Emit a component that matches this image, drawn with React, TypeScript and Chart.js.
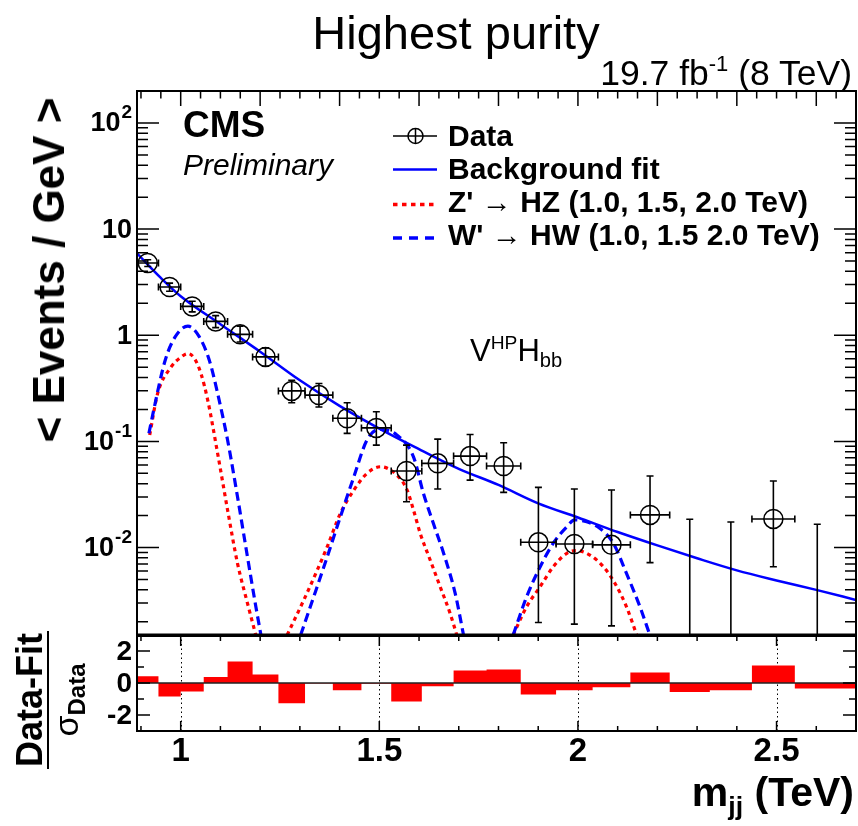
import React, { useEffect, useRef } from 'react';
import { Chart, registerables } from 'chart.js';

Chart.register(...registerables);

const FONT = '"Liberation Sans", Arial, Helvetica, sans-serif';

// ---- data (mass in TeV, < Events / GeV >) ----
const binEdges = [0.890, 0.944, 1.000, 1.058, 1.118, 1.181, 1.246, 1.313, 1.383, 1.455, 1.530, 1.607, 1.687, 1.770, 1.856, 1.945, 2.037, 2.132, 2.231, 2.332, 2.438, 2.546, 2.659];
const dataValues = [4.79, 2.85, 1.87, 1.35, 1.02, 0.625, 0.299, 0.273, 0.165, 0.134, 0.0526, 0.0621, 0.0727, 0.0586, 0.0112, 0.0108, 0.0106, 0.0203, 0, 0, 0.0186, 0];
const dataHigh = [5.15, 3.10, 2.09, 1.53, 1.22, 0.760, 0.377, 0.351, 0.231, 0.190, 0.0923, 0.105, 0.116, 0.097, 0.0369, 0.0356, 0.0348, 0.0472, 0.0185, 0.0174, 0.0423, 0.0166];
const dataLow = [4.45, 2.60, 1.66, 1.18, 0.865, 0.511, 0.231, 0.211, 0.119, 0.0923, 0.0270, 0.0356, 0.0432, 0.0331, 0.00197, 0.0019, 0.00183, 0.00721, 0, 0, 0.0066, 0];

const fitMass = [0.89, 0.95, 1.0, 1.1, 1.2, 1.3, 1.4, 1.5, 1.6, 1.7, 1.8, 1.9, 2.0, 2.1, 2.2, 2.3, 2.4, 2.5, 2.6, 2.7];
const fitValues = [5.92, 3.47, 2.33, 1.27, 0.70, 0.376, 0.216, 0.132, 0.0845, 0.0551, 0.0389, 0.0261, 0.0192, 0.0140, 0.01047, 0.00793, 0.0061, 0.0049, 0.00399, 0.00321];

const zp1Mass = [0.922, 0.942, 0.976, 1.0, 1.018, 1.035, 1.051, 1.068, 1.093, 1.118, 1.143, 1.168, 1.189];
const zp1Values = [0.115, 0.283, 0.503, 0.62, 0.673, 0.60, 0.436, 0.245, 0.077, 0.0226, 0.0071, 0.0030, 0.0015];
const zp2Mass = [1.268, 1.31, 1.344, 1.369, 1.402, 1.436, 1.469, 1.503, 1.544, 1.570, 1.586, 1.603, 1.628, 1.653, 1.678, 1.695];
const zp2Values = [0.0015, 0.00321, 0.00615, 0.0102, 0.021, 0.0348, 0.050, 0.0577, 0.0482, 0.0348, 0.0226, 0.0136, 0.00764, 0.00429, 0.00241, 0.0015];
const zp3Mass = [1.837, 1.871, 1.905, 1.938, 1.972, 1.997, 2.03, 2.064, 2.093, 2.122, 2.148];
const zp3Values = [0.0015, 0.00278, 0.00429, 0.0066, 0.00883, 0.00935, 0.0085, 0.0066, 0.00461, 0.00278, 0.0015];

const wp1Mass = [0.920, 0.932, 0.961, 0.986, 1.018, 1.047, 1.072, 1.093, 1.118, 1.143, 1.168, 1.189, 1.202];
const wp1Values = [0.119, 0.197, 0.582, 0.964, 1.22, 0.964, 0.582, 0.283, 0.103, 0.0301, 0.0082, 0.0028, 0.0015];
const wp2Mass = [1.302, 1.335, 1.369, 1.402, 1.436, 1.469, 1.50, 1.544, 1.586, 1.611, 1.636, 1.662, 1.691, 1.712];
const wp2Values = [0.0015, 0.00345, 0.0082, 0.0195, 0.0465, 0.103, 0.13, 0.115, 0.0716, 0.0324, 0.0169, 0.0088, 0.0037, 0.0015];
const wp3Mass = [1.837, 1.871, 1.905, 1.938, 1.972, 1.992, 2.022, 2.055, 2.089, 2.122, 2.156, 2.181];
const wp3Values = [0.0015, 0.00345, 0.0066, 0.011, 0.0157, 0.0182, 0.0175, 0.0152, 0.011, 0.00573, 0.00278, 0.0015];

const residualEdges = [0.890, 0.944, 1.000, 1.058, 1.118, 1.181, 1.246, 1.313, 1.383, 1.455, 1.530, 1.607, 1.687, 1.770, 1.856, 1.945, 2.037, 2.132, 2.231, 2.332, 2.438, 2.546, 2.659, 2.775];
const residualValues = [0.42, -0.84, -0.53, 0.38, 1.35, 0.53, -1.27, -0.03, -0.46, -0.05, -1.16, -0.21, 0.78, 0.84, -0.72, -0.46, -0.27, 0.65, -0.57, -0.46, 1.10, -0.34, -0.34];

// ---- ticks / labels ----
const yTickValues = [0.01, 0.1, 1, 10, 100];
const yTickBase = ['10', '10', '1', '10', '10'];
const yTickExp = ['-2', '-1', '', '', '2'];
const resTickValues = [-2, 0, 2];
const resTickLabels = ['-2', '0', '2'];
const xTickValues = [1, 1.5, 2, 2.5];
const xTickLabels = ['1', '1.5', '2', '2.5'];
const legendLabels = ['Data', 'Background fit', "Z' \u2192 HZ (1.0, 1.5, 2.0 TeV)", "W' \u2192 HW (1.0, 1.5 2.0 TeV)"];

const RED = '#ff0000';
const BLUE = '#0000ff';

const pts = (xs: number[], ys: number[]) => xs.map((x, i) => ({ x, y: ys[i] }));

const rootPlugin = {
  id: 'rootStyle',
  beforeDatasetsDraw(chart: any) {
    const { ctx } = chart;
    const xs = chart.scales.x, rs = chart.scales.yRes;
    ctx.save();
    ctx.strokeStyle = '#000';
    ctx.lineWidth = 1;
    ctx.setLineDash([1.5, 3]);
    for (const v of xTickValues) {
      const px = Math.round(xs.getPixelForValue(v)) + 0.5;
      ctx.beginPath(); ctx.moveTo(px, rs.top); ctx.lineTo(px, rs.bottom); ctx.stroke();
    }
    ctx.restore();
  },
  afterDatasetsDraw(chart: any) {
    const { ctx } = chart;
    const xs = chart.scales.x, ys = chart.scales.y, rs = chart.scales.yRes;
    const L = xs.left, R = xs.right;
    const mainBottom = ys.bottom - 0.5;
    const resTop = rs.top + 1;

    // error bars
    ctx.save();
    ctx.beginPath(); ctx.rect(L, ys.top, R - L, mainBottom - ys.top); ctx.clip();
    ctx.strokeStyle = '#000'; ctx.lineWidth = 1.6;
    const cap = 3.5;
    for (let i = 0; i < dataValues.length; i++) {
      const xl = xs.getPixelForValue(binEdges[i]);
      const xr = xs.getPixelForValue(binEdges[i + 1]);
      const xc = xs.getPixelForValue((binEdges[i] + binEdges[i + 1]) / 2);
      const yh = ys.getPixelForValue(dataHigh[i]);
      const yl = dataLow[i] > 0 ? ys.getPixelForValue(dataLow[i]) : ys.bottom + 10;
      ctx.beginPath();
      ctx.moveTo(xc, yh); ctx.lineTo(xc, yl);
      ctx.moveTo(xc - cap, yh); ctx.lineTo(xc + cap, yh);
      if (dataLow[i] > 0) { ctx.moveTo(xc - cap, yl); ctx.lineTo(xc + cap, yl); }
      if (dataValues[i] > 0) {
        const yc = ys.getPixelForValue(dataValues[i]);
        ctx.moveTo(xl, yc); ctx.lineTo(xr, yc);
        ctx.moveTo(xl, yc - cap); ctx.lineTo(xl, yc + cap);
        ctx.moveTo(xr, yc - cap); ctx.lineTo(xr, yc + cap);
      }
      ctx.stroke();
    }
    ctx.restore();

    ctx.save();
    // residual zero line
    const y0 = rs.getPixelForValue(0);
    ctx.strokeStyle = '#222'; ctx.lineWidth = 1.6;
    ctx.beginPath(); ctx.moveTo(L, y0); ctx.lineTo(R, y0); ctx.stroke();

    // frames
    ctx.strokeStyle = '#000'; ctx.lineWidth = 2;
    ctx.strokeRect(L, ys.top, R - L, mainBottom - ys.top);
    ctx.strokeRect(L, resTop, R - L, rs.bottom - resTop);

    // main panel ticks
    ctx.lineWidth = 1.5;
    ctx.beginPath();
    for (let d = -3; d <= 2; d++) {
      for (let m = 1; m <= 9; m++) {
        const v = m * Math.pow(10, d);
        if (v <= ys.min || v >= ys.max) continue;
        const py = ys.getPixelForValue(v);
        const len = m === 1 ? 22 : 11;
        ctx.moveTo(L, py); ctx.lineTo(L + len, py);
        ctx.moveTo(R, py); ctx.lineTo(R - len, py);
      }
    }
    for (let k = 18; k <= 54; k++) {
      const v = k * 0.05;
      if (v <= xs.min || v >= xs.max) continue;
      const px = xs.getPixelForValue(v);
      const len = k % 4 === 0 ? 15 : 7.5;
      ctx.moveTo(px, ys.top); ctx.lineTo(px, ys.top + len);
    }
    // residual ticks
    for (let k = 9; k <= 27; k++) {
      const v = k * 0.1;
      if (v <= xs.min || v >= xs.max) continue;
      const px = xs.getPixelForValue(v);
      const len = k % 5 === 0 ? 10 : 5;
      ctx.moveTo(px, resTop); ctx.lineTo(px, resTop + len);
      ctx.moveTo(px, rs.bottom); ctx.lineTo(px, rs.bottom - len);
    }
    for (let v = -2; v <= 2; v++) {
      const py = rs.getPixelForValue(v);
      const len = v % 2 === 0 ? 13 : 7;
      ctx.moveTo(L, py); ctx.lineTo(L + len, py);
      ctx.moveTo(R, py); ctx.lineTo(R - len, py);
    }
    ctx.stroke();

    // tick labels
    ctx.fillStyle = '#000';
    ctx.textBaseline = 'middle';
    ctx.textAlign = 'right';
    const xr = L - 5;
    yTickValues.forEach((v, i) => {
      const py = ys.getPixelForValue(v);
      if (yTickExp[i]) {
        ctx.font = `bold 19px ${FONT}`;
        const ew = ctx.measureText(yTickExp[i]).width;
        ctx.fillText(yTickExp[i], xr, py - 10);
        ctx.font = `bold 27px ${FONT}`;
        ctx.fillText(yTickBase[i], xr - ew - 1, py + 1);
      } else {
        ctx.font = `bold 27px ${FONT}`;
        ctx.fillText(yTickBase[i], xr, py + 1);
      }
    });
    ctx.font = `bold 28px ${FONT}`;
    resTickValues.forEach((v, i) => {
      ctx.fillText(resTickLabels[i], xr, rs.getPixelForValue(v) + 1);
    });
    ctx.textAlign = 'center';
    ctx.font = `bold 33px ${FONT}`;
    xTickValues.forEach((v, i) => {
      ctx.fillText(xTickLabels[i], xs.getPixelForValue(v), rs.bottom + 21);
    });

    // legend symbols
    const lx0 = 393, lx1 = 437, lxc = 415.5;
    const rowsY = [136, 169.5, 204.5, 238];
    ctx.strokeStyle = '#000'; ctx.lineWidth = 1.5;
    ctx.beginPath();
    ctx.moveTo(lx0, rowsY[0]); ctx.lineTo(lx1, rowsY[0]);
    ctx.moveTo(lxc, rowsY[0] - 7.5); ctx.lineTo(lxc, rowsY[0] + 7.5);
    ctx.stroke();
    ctx.beginPath(); ctx.arc(lxc, rowsY[0], 7.5, 0, Math.PI * 2); ctx.stroke();
    ctx.strokeStyle = BLUE; ctx.lineWidth = 2.5;
    ctx.beginPath(); ctx.moveTo(lx0, rowsY[1]); ctx.lineTo(lx1, rowsY[1]); ctx.stroke();
    ctx.strokeStyle = RED; ctx.lineWidth = 3.5; ctx.setLineDash([4.5, 4.5]);
    ctx.beginPath(); ctx.moveTo(lx0, rowsY[2]); ctx.lineTo(lx1, rowsY[2]); ctx.stroke();
    ctx.strokeStyle = BLUE; ctx.setLineDash([9, 7]);
    ctx.beginPath(); ctx.moveTo(lx0, rowsY[3]); ctx.lineTo(lx1, rowsY[3]); ctx.stroke();
    ctx.restore();
  },
};

function T(props: { x: number; y: number; size: number; bold?: boolean; italic?: boolean; align?: 'left' | 'right' | 'center'; children: React.ReactNode }) {
  const { x, y, size, bold, italic, align = 'left', children } = props;
  const style: React.CSSProperties = {
    position: 'absolute',
    top: y - 0.8465 * size,
    fontSize: size,
    lineHeight: `${size}px`,
    fontWeight: bold ? 700 : 400,
    fontStyle: italic ? 'italic' : 'normal',
    whiteSpace: 'nowrap',
    color: '#000',
  };
  if (align === 'left') style.left = x;
  else if (align === 'right') style.right = 858 - x;
  else { style.left = x; style.transform = 'translateX(-50%)'; }
  return <div style={style}>{children}</div>;
}

const sup = (s: string) => <span style={{ fontSize: '0.62em', position: 'relative', top: '-0.62em' }}>{s}</span>;
const sub = (s: string) => <span style={{ fontSize: '0.65em', position: 'relative', top: '0.32em' }}>{s}</span>;

export default function App() {
  const ref = useRef<HTMLCanvasElement>(null);

  useEffect(() => {
    const lineDs = (label: string, xs: number[], ys: number[], color: string, dash: number[], width: number) => ({
      label,
      data: pts(xs, ys),
      yAxisID: 'y',
      borderColor: color,
      borderWidth: width,
      borderDash: dash,
      pointRadius: 0,
      fill: false,
      cubicInterpolationMode: 'monotone',
    });
    const centers = dataValues.map((_, i) => (binEdges[i] + binEdges[i + 1]) / 2);
    const resData = residualValues.map((v, i) => ({ x: residualEdges[i], y: v }));
    resData.push({ x: residualEdges[residualEdges.length - 1], y: residualValues[residualValues.length - 1] });

    const chart = new Chart(ref.current as HTMLCanvasElement, {
      type: 'line',
      data: {
        datasets: [
          {
            label: 'Data',
            data: centers.map((x, i) => ({ x, y: dataValues[i] > 0 ? dataValues[i] : null })),
            yAxisID: 'y',
            showLine: false,
            pointStyle: 'circle',
            pointRadius: 9.5,
            pointBorderWidth: 1.5,
            pointBorderColor: '#000',
            pointBackgroundColor: 'rgba(0,0,0,0)',
            borderColor: '#000',
            backgroundColor: 'rgba(0,0,0,0)',
            clip: 12,
          } as any,
          lineDs('Background fit', fitMass, fitValues, BLUE, [], 2.5),
          lineDs("W' 1.0", wp1Mass, wp1Values, BLUE, [9, 5], 3.2),
          lineDs("W' 1.5", wp2Mass, wp2Values, BLUE, [9, 5], 3.2),
          lineDs("W' 2.0", wp3Mass, wp3Values, BLUE, [9, 5], 3.2),
          lineDs("Z' 1.0", zp1Mass, zp1Values, RED, [4, 4], 3.2),
          lineDs("Z' 1.5", zp2Mass, zp2Values, RED, [4, 4], 3.2),
          lineDs("Z' 2.0", zp3Mass, zp3Values, RED, [4, 4], 3.2),
          {
            label: 'Residual',
            data: resData,
            yAxisID: 'yRes',
            stepped: 'before',
            fill: 'origin',
            backgroundColor: RED,
            borderColor: 'rgba(0,0,0,0)',
            borderWidth: 0,
            pointRadius: 0,
          } as any,
        ],
      },
      options: {
        responsive: false,
        animation: false,
        devicePixelRatio: 1,
        layout: { autoPadding: false, padding: { left: 137, right: 2, top: 91, bottom: 95 } },
        plugins: { legend: { display: false }, tooltip: { enabled: false }, title: { display: false } },
        scales: {
          x: { type: 'linear', min: 0.89, max: 2.7, display: false },
          y: { type: 'logarithmic', min: 0.0015, max: 200, display: false, position: 'left', stack: 'panels', stackWeight: 544, weight: 2 },
          yRes: { type: 'linear', min: -3, max: 3, display: false, position: 'left', stack: 'panels', stackWeight: 96, weight: 1 },
        },
      } as any,
      plugins: [rootPlugin],
    } as any);
    return () => chart.destroy();
  }, []);

  return (
    <div style={{ position: 'fixed', left: 0, top: 0, width: 858, height: 826, background: '#fff', fontFamily: FONT, overflow: 'hidden' }}>
      <canvas ref={ref} width={858} height={826} style={{ position: 'absolute', left: 0, top: 0, width: 858, height: 826 }} />
      <T x={456} y={49} size={47} align="center">Highest purity</T>
      <T x={852} y={86} size={35.5} align="right">19.7 fb{sup('-1')} (8 TeV)</T>
      <T x={183} y={137} size={37} bold>CMS</T>
      <T x={183} y={175} size={30} italic>Preliminary</T>
      <T x={448} y={146} size={30} bold>{legendLabels[0]}</T>
      <T x={448} y={179} size={30} bold>{legendLabels[1]}</T>
      <T x={448} y={212} size={30} bold>{legendLabels[2]}</T>
      <T x={448} y={245} size={30} bold>{legendLabels[3]}</T>
      <T x={470} y={361} size={31}>V{sup('HP')}H{sub('bb')}</T>
      <T x={854} y={807} size={41} bold align="right">m{sub('jj')} (TeV)</T>
      <div style={{ position: 'absolute', left: 49, top: 270, transform: 'translate(-50%,-50%) rotate(-90deg)', fontSize: 44, fontWeight: 700, lineHeight: '44px', whiteSpace: 'nowrap' }}>
        &lt; Events / GeV &gt;
      </div>
      <div style={{ position: 'absolute', left: 50, top: 700, transform: 'translate(-50%,-50%) rotate(-90deg)', whiteSpace: 'nowrap', textAlign: 'center' }}>
        <div style={{ fontSize: 36, fontWeight: 700, lineHeight: '34px', borderBottom: '2px solid #000', padding: '0 2px' }}>Data-Fit</div>
        <div style={{ fontSize: 34, lineHeight: '34px' }}>
          σ<span style={{ fontSize: 24, fontWeight: 700, position: 'relative', top: 7 }}>Data</span>
        </div>
      </div>
    </div>
  );
}
